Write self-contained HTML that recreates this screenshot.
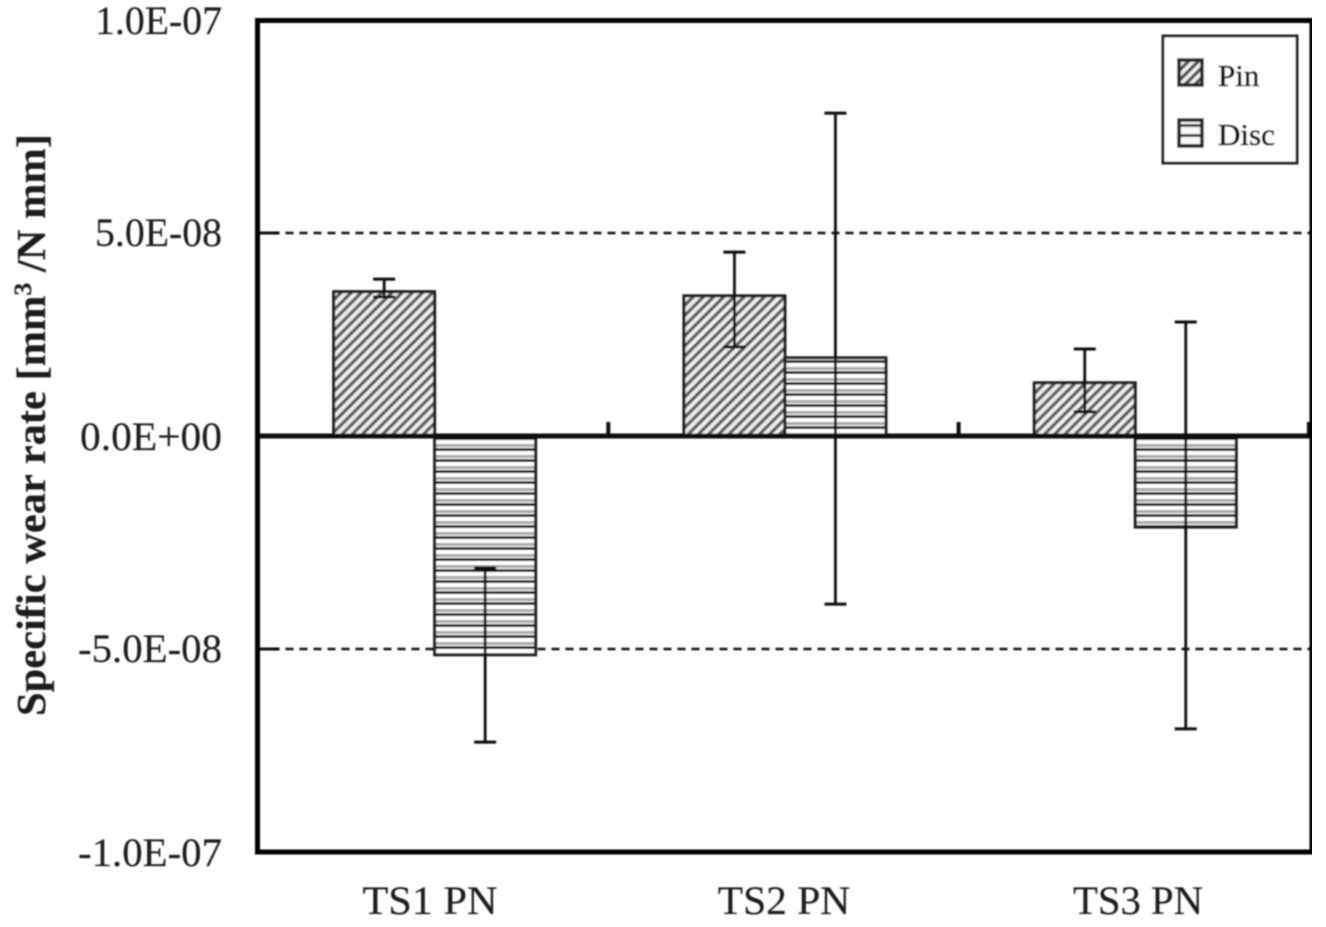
<!DOCTYPE html>
<html lang="en">
<head>
<meta charset="utf-8">
<title>Specific wear rate chart</title>
<style>
html,body{margin:0;padding:0;background:#fff;width:1326px;height:927px;overflow:hidden}
svg{display:block}
text{font-family:"Liberation Serif",serif;fill:#1a1a1a;stroke:#1a1a1a;stroke-width:0.15}
text.legend-text{fill:#000;stroke:#000;stroke-width:0.6}
</style>
</head>
<body>
<svg id="chart" xmlns="http://www.w3.org/2000/svg" width="1326" height="927" viewBox="0 0 1326 927">
<defs>
<pattern id="hatch" patternUnits="userSpaceOnUse" width="10" height="10" patternTransform="rotate(-45) scale(0.72)">
<rect width="10" height="10" fill="#ececec"/>
<rect width="10" height="4.6" fill="#5c5c5c"/>
</pattern>
<pattern id="stripes" patternUnits="userSpaceOnUse" width="10" height="11">
<rect width="10" height="11" fill="#fff"/>
<rect y="4" width="10" height="3" fill="#a8a8a8"/>
<rect y="8.2" width="10" height="3" fill="#000"/>
</pattern>
<pattern id="hatch-small" patternUnits="userSpaceOnUse" width="7" height="7" patternTransform="rotate(-45)">
<rect width="7" height="7" fill="#eee"/>
<rect width="7" height="3.4" fill="#555"/>
</pattern>
<pattern id="stripes-small" patternUnits="userSpaceOnUse" width="10" height="10" y="120">
<rect width="10" height="10" fill="#f8f8f8"/>
<rect y="4" width="10" height="3" fill="#444"/>
</pattern>
<filter id="soft" x="0" y="0" width="100%" height="100%"><feGaussianBlur stdDeviation="0.9"/></filter>
</defs>
<g id="root" filter="url(#soft)"></g>
</svg>
<script>
const categories = ['TS1 PN', 'TS2 PN', 'TS3 PN'];
const pinValues = [3.47e-8, 3.37e-8, 1.28e-8];
const pinErrHigh = [3.77e-8, 4.42e-8, 2.09e-8];
const pinErrLow = [3.34e-8, 2.14e-8, 0.58e-8];
const discValues = [-5.26e-8, 1.88e-8, -2.19e-8];
const discErrHigh = [-3.17e-8, 7.76e-8, 2.74e-8];
const discErrLow = [-7.36e-8, -4.04e-8, -7.04e-8];
const yTicks = [1e-7, 4.9e-8, 0, -5.1e-8, -1e-7];
const yTickLabels = ['1.0E-07', '5.0E-08', '0.0E+00', '-5.0E-08', '-1.0E-07'];
const gridValues = [4.88e-8, -5.12e-8];

const NS = 'http://www.w3.org/2000/svg';
const root = document.getElementById('root');
const plot = {left: 257.5, right: 1312, top: 20.5, bottom: 852};
const bandW = 350.3, barW = 101;
const yMax = 1e-7, yMin = -1e-7;
function yScale(v) { return 20 + (yMax - v) / (yMax - yMin) * 832; }
function xBand(i) { return 258 + bandW * i; }
function xCenter(i) { return xBand(i) + bandW / 2 + 1.5; }
function make(tag, attrs, text) {
  const el = document.createElementNS(NS, tag);
  for (const k in attrs) el.setAttribute(k, attrs[k]);
  if (text !== undefined) el.textContent = text;
  root.appendChild(el);
  return el;
}
function drawBar(x, v, fill) {
  const y0 = yScale(0), y1 = yScale(v);
  return make('rect', {x: x, y: Math.min(y0, y1), width: barW, height: Math.abs(y1 - y0), fill: fill, stroke: '#1e1e1e', 'stroke-width': 3});
}
function drawErr(x, hi, lo) {
  const g = [];
  g.push(make('line', {x1: x, x2: x, y1: yScale(hi), y2: yScale(lo), stroke: '#111', 'stroke-width': 2.8}));
  g.push(make('line', {x1: x - 11, x2: x + 11, y1: yScale(hi), y2: yScale(hi), stroke: '#111', 'stroke-width': 3}));
  g.push(make('line', {x1: x - 11, x2: x + 11, y1: yScale(lo), y2: yScale(lo), stroke: '#111', 'stroke-width': 3}));
  return g;
}

gridValues.forEach(function (v) {
  const l = make('line', {x1: plot.left, x2: plot.right, y1: yScale(v), y2: yScale(v), stroke: '#111', 'stroke-width': 2.4, 'stroke-dasharray': '8 6'});
  
  
  const t = make('line', {x1: plot.left, x2: plot.left + 22, y1: yScale(v), y2: yScale(v), stroke: '#111', 'stroke-width': 3});
  
  
});

categories.forEach(function (c, i) {
  const cx = xCenter(i);
  const pin = drawBar(cx - barW, pinValues[i], 'url(#hatch)');
  
  
  const disc = drawBar(cx, discValues[i], 'url(#stripes)');
  
  
  drawErr(cx - barW / 2, pinErrHigh[i], pinErrLow[i]).forEach(function (e) {
    
    
  });
  drawErr(cx + barW / 2, discErrHigh[i], discErrLow[i]).forEach(function (e) {
    
    
  });
  const lab = make('text', {x: 430 + 354 * i, y: 914, 'text-anchor': 'middle', 'font-size': 40, textLength: 135 - 2.5 * i, lengthAdjust: 'spacingAndGlyphs'}, c);
  
  
  const tick = make('line', {x1: xBand(i + 1), x2: xBand(i + 1), y1: yScale(0) - 14, y2: yScale(0), stroke: '#111', 'stroke-width': 4});
  
  
});

const zero = make('line', {x1: plot.left, x2: plot.right, y1: yScale(0), y2: yScale(0), stroke: '#111', 'stroke-width': 5});



const frame = make('rect', {x: plot.left, y: plot.top, width: plot.right - plot.left, height: plot.bottom - plot.top, fill: 'none', stroke: '#000', 'stroke-width': 5});



yTicks.forEach(function (v, i) {
  const wide = yTickLabels[i].length > 7 ? 144 : (yTickLabels[i].indexOf('+') >= 0 ? 142 : 127);
  const t = make('text', {x: 222, y: yScale(v) + 14, 'text-anchor': 'end', 'font-size': 40, textLength: wide, lengthAdjust: 'spacingAndGlyphs'}, yTickLabels[i]);
  
  
});

const yTitle = make('text', {transform: 'translate(45 425) rotate(-90)', 'text-anchor': 'middle', 'font-size': 41, 'font-weight': 'bold', textLength: 582, lengthAdjust: 'spacingAndGlyphs'});


yTitle.innerHTML = 'Specific wear rate [mm<tspan dy="-14" font-size="25">3</tspan><tspan dy="14"> /N mm]</tspan>';

const legendBox = make('rect', {x: 1163, y: 36, width: 134, height: 127, fill: '#fff', stroke: '#222', 'stroke-width': 3});


const swatchPin = make('rect', {x: 1179, y: 60, width: 23, height: 25, fill: 'url(#hatch-small)', stroke: '#222', 'stroke-width': 3.5});


const legendPin = make('text', {x: 1218, y: 86, 'font-size': 31, class: 'legend-text'}, 'Pin');


const swatchDisc = make('rect', {x: 1179, y: 120, width: 23, height: 26, fill: 'url(#stripes-small)', stroke: '#222', 'stroke-width': 3.5});


const legendDisc = make('text', {x: 1218, y: 145, 'font-size': 31, class: 'legend-text'}, 'Disc');


</script>
</body>
</html>
